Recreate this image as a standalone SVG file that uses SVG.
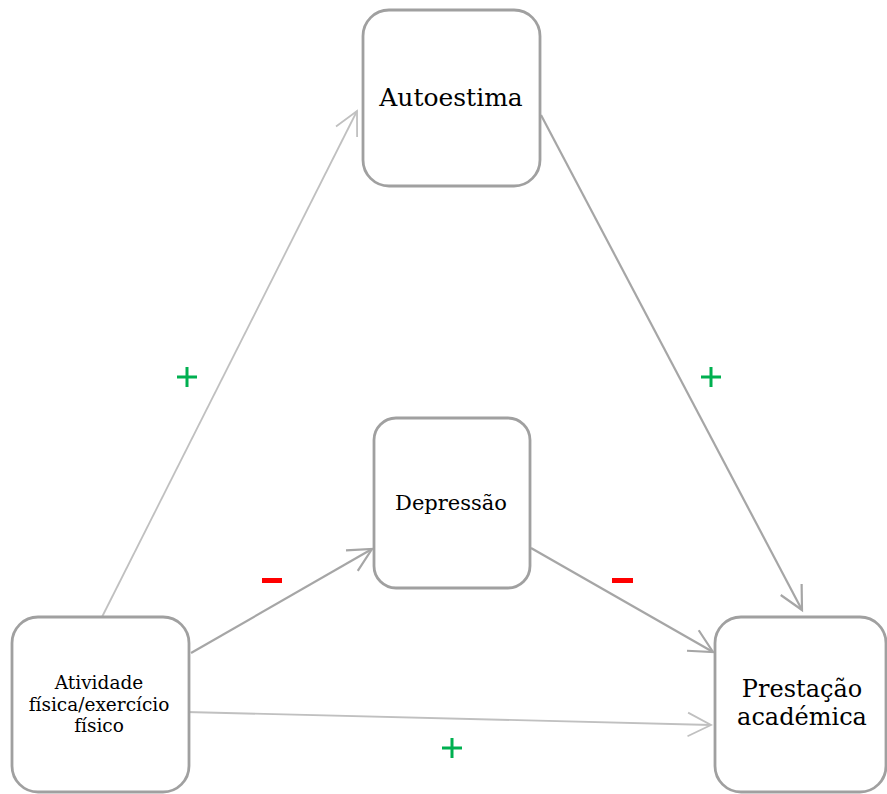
<svg xmlns="http://www.w3.org/2000/svg" width="887" height="794" viewBox="0 0 887 794">
<style>
.box{fill:#ffffff;stroke:#a0a0a0;stroke-width:2.8}
.lbl{font-family:"DejaVu Serif","Liberation Serif",serif;fill:#000;text-anchor:middle}
.dark{stroke:#a6a6a6;stroke-width:2.2;fill:none}
.light{stroke:#c0c0c0;stroke-width:1.8;fill:none}
.plus{stroke:#00b050;stroke-width:3;fill:none}
.minus{fill:#ff0000}
</style>
<defs>
<marker id="ahD" markerUnits="userSpaceOnUse" markerWidth="30" markerHeight="30" refX="0" refY="0" viewBox="-26 -15 30 30" orient="auto" overflow="visible">
<path d="M-23.2,-11.8 L0,0 L-23.2,11.8" fill="none" stroke="#a6a6a6" stroke-width="2.2"/>
</marker>
<marker id="ahL" markerUnits="userSpaceOnUse" markerWidth="30" markerHeight="30" refX="0" refY="0" viewBox="-26 -15 30 30" orient="auto" overflow="visible">
<path d="M-23.2,-11.8 L0,0 L-23.2,11.8" fill="none" stroke="#c0c0c0" stroke-width="1.8"/>
</marker>
</defs>
<rect width="887" height="794" fill="#ffffff"/>
<g id="connectors">
<line class="light" x1="102" y1="617" x2="357" y2="111" marker-end="url(#ahL)"/>
<line class="dark" x1="191" y1="653" x2="372" y2="549" marker-end="url(#ahD)"/>
<line class="light" x1="186" y1="712" x2="711" y2="725" marker-end="url(#ahL)"/>
<line class="dark" x1="531" y1="548" x2="713" y2="652" marker-end="url(#ahD)"/>
<line class="dark" x1="541" y1="115" x2="802" y2="610" marker-end="url(#ahD)"/>
</g>
<g id="signs">
<path class="plus" d="M177,377 H197 M187,367 V387"/>
<path class="plus" d="M701,377 H721 M711,367 V387"/>
<path class="plus" d="M442,748 H462 M452,738 V758"/>
<rect class="minus" x="262" y="578" width="20" height="5"/>
<rect class="minus" x="612" y="578" width="21" height="5"/>
</g>
<g id="autoestima">
<rect class="box" x="363" y="10" width="177" height="176" rx="26"/>
<text class="lbl" x="451" y="106" font-size="25">Autoestima</text>
</g>
<g id="depressao">
<rect class="box" x="374" y="418" width="156" height="170" rx="22"/>
<text class="lbl" x="451" y="510" font-size="21">Depressão</text>
</g>
<g id="atividade">
<rect class="box" x="12" y="617" width="177" height="175" rx="26"/>
<text class="lbl" x="99" y="689" font-size="18.5">Atividade</text>
<text class="lbl" x="99" y="711" font-size="18.5">física/exercício</text>
<text class="lbl" x="99" y="732" font-size="18.5">físico</text>
</g>
<g id="prestacao">
<rect class="box" x="715" y="617" width="171" height="175" rx="26"/>
<text class="lbl" x="802" y="697" font-size="24">Prestação</text>
<text class="lbl" x="802" y="725" font-size="24">académica</text>
</g>
</svg>
